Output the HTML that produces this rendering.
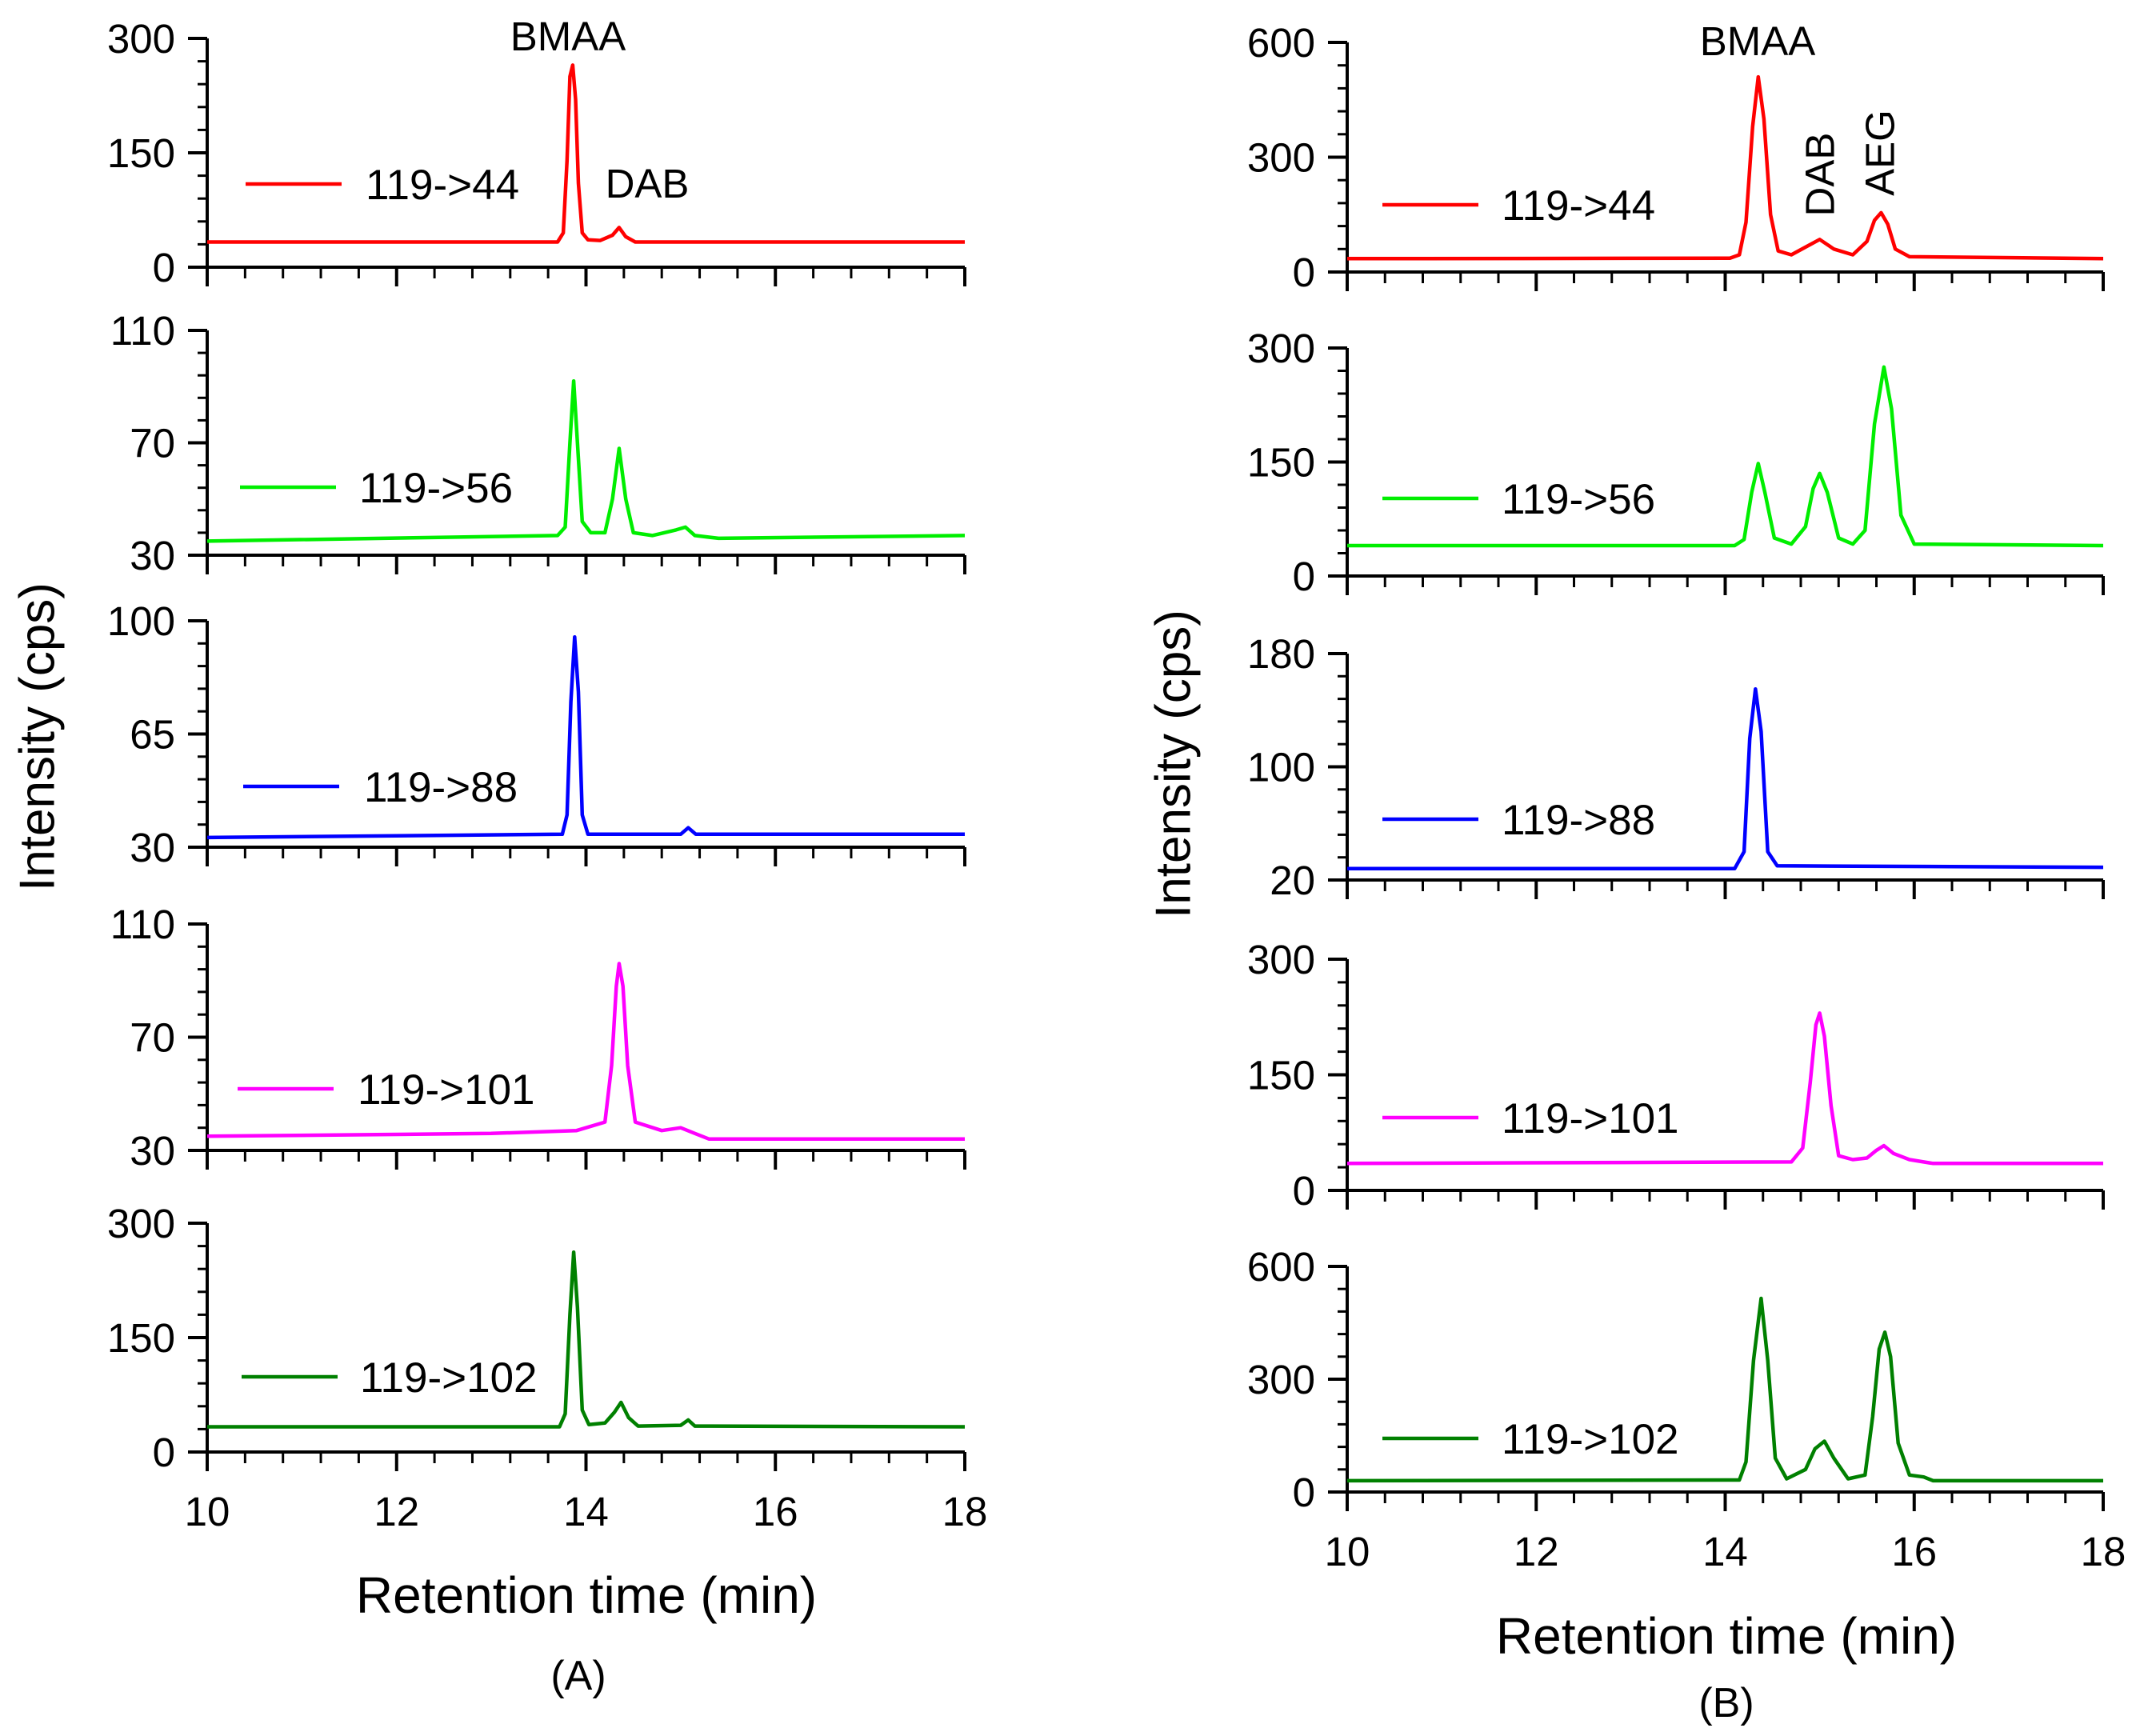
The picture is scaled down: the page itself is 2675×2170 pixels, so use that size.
<!DOCTYPE html>
<html><head><meta charset="utf-8">
<style>
html,body{margin:0;padding:0;background:#fff;}
svg{display:block;font-family:"Liberation Sans",sans-serif;}
</style></head>
<body>
<svg id="chart" width="2675" height="2170" viewBox="0 0 2675 2170" xmlns="http://www.w3.org/2000/svg">
<text x="51" y="921" font-size="62" text-anchor="middle" transform="rotate(-90 51 921)" dominant-baseline="middle">Intensity (cps)</text>
<text x="1471" y="955" font-size="62" text-anchor="middle" transform="rotate(-90 1471 955)" dominant-baseline="middle">Intensity (cps)</text>
<text x="733" y="2016" font-size="64" text-anchor="middle">Retention time (min)</text>
<text x="2158" y="2067" font-size="64" text-anchor="middle">Retention time (min)</text>
<text x="723" y="2112" font-size="52" text-anchor="middle">(A)</text>
<text x="2158" y="2146" font-size="52" text-anchor="middle">(B)</text>
<text x="710" y="63" font-size="51" text-anchor="middle">BMAA</text>
<text x="809" y="247" font-size="51" text-anchor="middle">DAB</text>
<text x="2197" y="69" font-size="51" text-anchor="middle">BMAA</text>
<text x="2279" y="218" font-size="51" text-anchor="middle" dominant-baseline="middle" transform="rotate(-90 2279 218)">DAB</text>
<text x="2354" y="191" font-size="51" text-anchor="middle" dominant-baseline="middle" transform="rotate(-90 2354 191)">AEG</text>
</svg>
<script>
// x range and tick labels
const xTicks = [10, 12, 14, 16, 18];
// Panel y ranges / tick labels
const yTicksA1 = [0, 150, 300];
const yTicksA2 = [30, 70, 110];
const yTicksA3 = [30, 65, 100];
const yTicksA4 = [30, 70, 110];
const yTicksA5 = [0, 150, 300];
const yTicksB1 = [0, 300, 600];
const yTicksB2 = [0, 150, 300];
const yTicksB3 = [20, 100, 180];
const yTicksB4 = [0, 150, 300];
const yTicksB5 = [0, 300, 600];
// Series data (time min, intensity cps)
const tA1 = [10, 13.7, 13.76, 13.8, 13.83, 13.86, 13.89, 13.92, 13.96, 14.02, 14.15, 14.28, 14.35, 14.42, 14.52, 18];
const vA1 = [33, 33, 45, 140, 250, 265, 220, 110, 45, 36, 35, 42, 52, 40, 33, 33];
const tA2 = [10, 13.7, 13.78, 13.83, 13.87, 13.91, 13.96, 14.05, 14.2, 14.28, 14.35, 14.42, 14.5, 14.7, 14.95, 15.05, 15.15, 15.4, 18];
const vA2 = [35, 37, 40, 70, 92, 70, 42, 38, 38, 50, 68, 50, 38, 37, 39, 40, 37, 36, 37];
const tA3 = [10, 13.75, 13.8, 13.84, 13.88, 13.92, 13.96, 14.02, 15.0, 15.08, 15.16, 18];
const vA3 = [33, 34, 40, 75, 95, 78, 40, 34, 34, 36, 34, 34];
const tA4 = [10, 13.0, 13.9, 14.2, 14.27, 14.32, 14.35, 14.39, 14.44, 14.52, 14.8, 15.0, 15.15, 15.3, 18];
const vA4 = [35, 36, 37, 40, 60, 88, 96, 88, 60, 40, 37, 38, 36, 34, 34];
const tA5 = [10, 13.72, 13.78, 13.83, 13.87, 13.91, 13.96, 14.03, 14.2, 14.3, 14.37, 14.45, 14.55, 15.0, 15.08, 15.15, 18];
const vA5 = [33, 33, 50, 180, 262, 190, 55, 36, 38, 52, 65, 45, 34, 35, 42, 34, 33];
const tB1 = [10, 14.05, 14.15, 14.22, 14.29, 14.35, 14.41, 14.48, 14.56, 14.7, 14.85, 15.0, 15.15, 15.35, 15.5, 15.58, 15.65, 15.72, 15.8, 15.95, 18];
const vB1 = [35, 36, 45, 130, 380, 510, 400, 150, 55, 45, 65, 85, 60, 45, 80, 135, 155, 125, 60, 40, 35];
const tB2 = [10, 14.1, 14.2, 14.28, 14.35, 14.42, 14.52, 14.7, 14.85, 14.93, 15.0, 15.08, 15.2, 15.35, 15.48, 15.58, 15.68, 15.76, 15.86, 16.0, 18];
const vB2 = [40, 40, 48, 110, 148, 110, 50, 42, 65, 115, 135, 110, 50, 42, 60, 200, 275, 220, 80, 42, 40];
const tB3 = [10, 14.1, 14.2, 14.26, 14.32, 14.38, 14.45, 14.55, 18];
const vB3 = [28, 28, 40, 120, 155, 125, 40, 30, 29];
const tB4 = [10, 14.7, 14.82, 14.9, 14.96, 15.0, 15.05, 15.12, 15.2, 15.35, 15.5, 15.6, 15.68, 15.78, 15.95, 16.2, 18];
const vB4 = [35, 37, 55, 140, 215, 230, 200, 110, 45, 40, 42, 52, 58, 48, 40, 35, 35];
const tB5 = [10, 14.15, 14.22, 14.3, 14.38, 14.45, 14.53, 14.65, 14.85, 14.95, 15.05, 15.15, 15.3, 15.48, 15.56, 15.63, 15.69, 15.75, 15.83, 15.95, 16.1, 16.2, 18];
const vB5 = [30, 32, 80, 350, 515, 350, 90, 35, 60, 115, 135, 90, 35, 45, 200, 380, 425, 360, 130, 45, 40, 30, 30];

const panels = [
 {id:'a1', x0:259, x1:1206, yt:48, yb:334, yTicks:yTicksA1, t:tA1, v:vA1, color:'#ff0000', label:'119->44', lx0:307, lx1:427, ly:230, tx:457, showX:false},
 {id:'a2', x0:259, x1:1206, yt:413, yb:694, yTicks:yTicksA2, t:tA2, v:vA2, color:'#00ee00', label:'119->56', lx0:300, lx1:420, ly:609, tx:449, showX:false},
 {id:'a3', x0:259, x1:1206, yt:776, yb:1059, yTicks:yTicksA3, t:tA3, v:vA3, color:'#0000ff', label:'119->88', lx0:304, lx1:424, ly:983, tx:455, showX:false},
 {id:'a4', x0:259, x1:1206, yt:1155, yb:1438, yTicks:yTicksA4, t:tA4, v:vA4, color:'#ff00ff', label:'119->101', lx0:297, lx1:417, ly:1361, tx:447, showX:false},
 {id:'a5', x0:259, x1:1206, yt:1529, yb:1815, yTicks:yTicksA5, t:tA5, v:vA5, color:'#008000', label:'119->102', lx0:302, lx1:422, ly:1721, tx:450, showX:true, xly:1907},
 {id:'b1', x0:1684, x1:2629, yt:53, yb:340, yTicks:yTicksB1, t:tB1, v:vB1, color:'#ff0000', label:'119->44', lx0:1728, lx1:1848, ly:256, tx:1877, showX:false},
 {id:'b2', x0:1684, x1:2629, yt:435, yb:720, yTicks:yTicksB2, t:tB2, v:vB2, color:'#00ee00', label:'119->56', lx0:1728, lx1:1848, ly:623, tx:1877, showX:false},
 {id:'b3', x0:1684, x1:2629, yt:817, yb:1100, yTicks:yTicksB3, t:tB3, v:vB3, color:'#0000ff', label:'119->88', lx0:1728, lx1:1848, ly:1024, tx:1877, showX:false},
 {id:'b4', x0:1684, x1:2629, yt:1199, yb:1488, yTicks:yTicksB4, t:tB4, v:vB4, color:'#ff00ff', label:'119->101', lx0:1728, lx1:1848, ly:1397, tx:1877, showX:false},
 {id:'b5', x0:1684, x1:2629, yt:1583, yb:1865, yTicks:yTicksB5, t:tB5, v:vB5, color:'#008000', label:'119->102', lx0:1728, lx1:1848, ly:1798, tx:1877, showX:true, xly:1957}
];
const svg = document.getElementById('chart');
const NS = 'http://www.w3.org/2000/svg';
function mk(tag, attrs, parent){ const e=document.createElementNS(NS,tag); for(const k in attrs) e.setAttribute(k,attrs[k]); (parent||svg).appendChild(e); return e; }

panels.forEach(p=>{
  const g = mk('g',{});
  
  
  const xmin = xTicks[0], xmax = xTicks[xTicks.length-1];
  const ymin = p.yTicks[0], ymax = p.yTicks[p.yTicks.length-1];
  const sx = t => p.x0 + (t-xmin)/(xmax-xmin)*(p.x1-p.x0);
  const sy = v => p.yb - (v-ymin)/(ymax-ymin)*(p.yb-p.yt);
  const ax = mk('path',{d:`M${p.x0} ${p.yt} V${p.yb} H${p.x1}`, stroke:'#000','stroke-width':4, fill:'none'}, g);
  
  
  const nMajY = p.yTicks.length-1;
  for(let i=0;i<nMajY;i++){
    for(let j=1;j<5;j++){
      const v = p.yTicks[i] + (p.yTicks[i+1]-p.yTicks[i])*j/5;
      mk('line',{x1:p.x0-12,x2:p.x0,y1:sy(v),y2:sy(v),stroke:'#000','stroke-width':3},g);
    }
  }
  p.yTicks.forEach(v=>{
    mk('line',{x1:p.x0-24,x2:p.x0,y1:sy(v),y2:sy(v),stroke:'#000','stroke-width':4},g);
    const tl = mk('text',{x:p.x0-40,y:sy(v)+18,'font-size':51,'text-anchor':'end'},g);
    tl.textContent = v;
    
    
  });
  for(let i=0;i<xTicks.length-1;i++){
    for(let j=1;j<5;j++){
      const t = xTicks[i]+(xTicks[i+1]-xTicks[i])*j/5;
      mk('line',{x1:sx(t),x2:sx(t),y1:p.yb,y2:p.yb+14,stroke:'#000','stroke-width':3},g);
    }
  }
  xTicks.forEach(t=>{
    mk('line',{x1:sx(t),x2:sx(t),y1:p.yb,y2:p.yb+24,stroke:'#000','stroke-width':4},g);
    if(p.showX){
      const tl = mk('text',{x:sx(t),y:p.xly,'font-size':51,'text-anchor':'middle'},g);
      tl.textContent = t;
      
      
    }
  });
  const d = p.t.map((t,i)=>(i?'L':'M')+sx(t).toFixed(1)+' '+sy(p.v[i]).toFixed(1)).join(' ');
  const line = mk('path',{d:d, stroke:p.color,'stroke-width':4.5, fill:'none','stroke-linejoin':'round'},g);
  
  
  const lg = mk('g',{},g);
  
  
  mk('line',{x1:p.lx0,x2:p.lx1,y1:p.ly,y2:p.ly,stroke:p.color,'stroke-width':4.5},lg);
  const lt = mk('text',{x:p.tx,y:p.ly+19,'font-size':53},lg);
  lt.textContent = p.label;
});
</script>
</body></html>
